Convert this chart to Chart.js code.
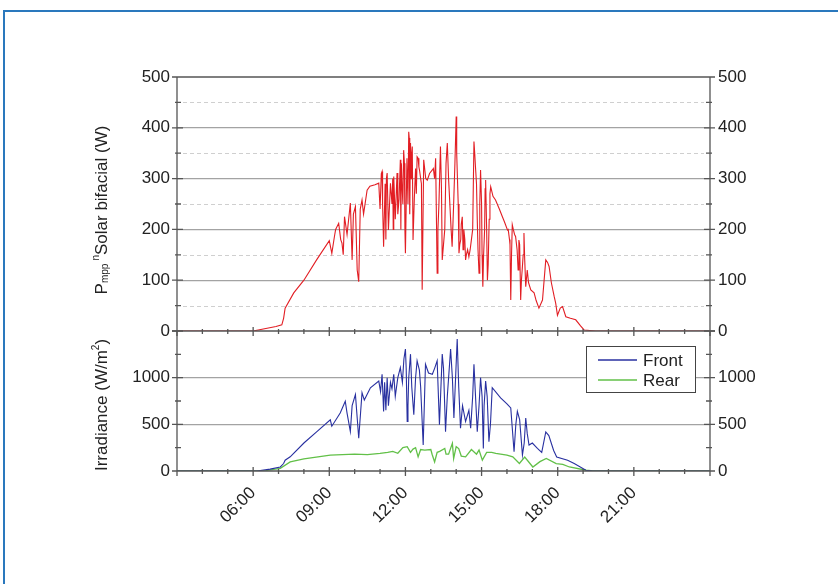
<!DOCTYPE html>
<html>
<head>
<meta charset="utf-8">
<script src="https://cdn.jsdelivr.net/npm/chart.js@4.4.1/dist/chart.umd.min.js"></script>
<style>
  html, body { margin: 0; padding: 0; background: #fff; }
  #wrap { position: relative; width: 838px; height: 584px; overflow: hidden; }
  #frame { position: absolute; left: 3px; top: 10px; width: 900px; height: 700px;
           border-top: 2px solid #2a78bd; border-left: 2px solid #2a78bd; box-sizing: border-box; }
  canvas { position: absolute; left: 0; }
  #cTop { top: 0; }
  #cBot { top: 312px; }
</style>
</head>
<body>
<div id="wrap">
  <div id="frame"></div>
  <canvas id="cTop" width="838" height="350"></canvas>
  <canvas id="cBot" width="838" height="272"></canvas>
</div>
<script>
// === DADOS ===
const hourTicks = [6, 9, 12, 15, 18, 21];
const powerTicks = [0, 100, 200, 300, 400, 500];
const irrTicks = [0, 500, 1000];

// Pmpp solar bifacial (W)
const powerHours = [
  3, 6, 6.1, 6.5, 6.9, 7.13, 7.2, 7.26, 7.6, 8.0, 8.5,
  9.0, 9.1, 9.2, 9.25, 9.37, 9.45, 9.5, 9.55, 9.6, 9.7, 9.83, 9.9, 9.95,
  10.03, 10.1, 10.16, 10.22, 10.29, 10.35, 10.49, 10.6, 10.8, 10.95,
  11.0, 11.05, 11.08, 11.1, 11.14, 11.2, 11.23, 11.25, 11.28, 11.33, 11.41, 11.47, 11.5, 11.52,
  11.54, 11.6, 11.67, 11.7, 11.75, 11.8, 11.82, 11.84, 11.87, 11.9, 11.93, 11.96, 11.98,
  12.0, 12.06, 12.1, 12.13, 12.15, 12.17, 12.2, 12.23, 12.25, 12.27, 12.3, 12.35,
  12.4, 12.43, 12.46, 12.5, 12.53, 12.56, 12.6, 12.63, 12.66, 12.72, 12.8, 12.86, 12.95,
  13.06, 13.1, 13.15, 13.19, 13.25, 13.28, 13.32, 13.38, 13.42, 13.45, 13.5, 13.55, 13.6, 13.65, 13.7, 13.75, 13.8, 13.84, 13.9, 13.95,
  14.0, 14.02, 14.05, 14.08, 14.11, 14.14, 14.18, 14.2, 14.24, 14.27, 14.3, 14.34, 14.37, 14.4,
  14.45, 14.5, 14.55, 14.6, 14.65, 14.7, 14.73, 14.76, 14.8, 14.83, 14.86, 14.9, 14.93, 14.96,
  15.0, 15.02, 15.05, 15.08, 15.12, 15.14, 15.16, 15.2, 15.23, 15.26, 15.3, 15.33, 15.36, 15.45, 15.55, 15.7, 15.82, 15.9,
  16.02, 16.05, 16.1, 16.12, 16.15, 16.18, 16.21, 16.25, 16.3, 16.34, 16.4, 16.44, 16.47, 16.5, 16.54, 16.57, 16.6, 16.64, 16.67, 16.7, 16.74, 16.8, 16.85, 16.94,
  17.07, 17.15, 17.26, 17.4, 17.53, 17.6, 17.66, 17.75, 17.86, 17.92, 17.99,
  18.1, 18.19, 18.32, 18.5, 18.71, 18.9, 19.04, 19.5, 24];
const powerValues = [
  0, 0, 1, 5, 9, 12, 25, 45, 75, 100, 140,
  178, 153, 185, 200, 212, 180, 173, 150, 225, 190, 252, 140, 230,
  245, 120, 97, 240, 258, 230, 277, 285, 288, 291,
  240, 310, 314, 250, 166, 290, 180, 300, 311, 199, 291, 250, 300, 200,
  304, 220, 311, 230, 260, 337, 200, 330, 284, 250, 356, 330, 200,
  153, 340, 250, 392, 380, 230, 370, 300, 350, 363, 179, 260,
  320, 270, 343, 340, 323, 315, 300, 290, 81, 337, 300, 297, 310,
  317, 320, 300, 340, 114, 200, 250, 363, 280, 140, 170, 200, 330, 370, 300, 250, 200, 166, 250, 330,
  422, 350, 300, 250, 153, 170, 180, 210, 225, 160, 200, 180, 140, 150,
  160, 146, 160, 180, 200, 373, 350, 323, 290, 220, 160, 114, 250, 317,
  250, 150, 87, 150, 200, 280, 297, 200, 100, 130, 220, 270, 284, 265, 258, 240, 225, 215,
  199, 200, 180, 170, 61, 150, 209, 200, 190, 186, 160, 120, 179, 170, 61, 100, 120, 150, 193, 140, 87, 120, 95, 81,
  75, 60, 45, 61, 140, 135, 127, 95, 68, 55, 31,
  45, 48, 28, 25, 22, 10, 2, 0, 0];

// Irradiância frontal (W/m2)
const frontHours = [
  3, 6, 6.15, 6.67, 7.07, 7.2, 7.26, 7.46, 8.0, 8.5,
  9.04, 9.1, 9.43, 9.63, 9.7, 9.83, 9.9,
  10.03, 10.16, 10.29, 10.38, 10.62, 10.95,
  11.02, 11.08, 11.14, 11.18, 11.23, 11.28, 11.33, 11.41, 11.47, 11.54, 11.6, 11.7, 11.8, 11.88, 11.94,
  12.0, 12.03, 12.07, 12.1, 12.13, 12.2, 12.25, 12.33, 12.4, 12.46, 12.55, 12.6, 12.7, 12.79, 12.91,
  13.06, 13.15, 13.25, 13.34, 13.45, 13.5, 13.58, 13.65, 13.78, 13.85, 13.91,
  14.04, 14.1, 14.17, 14.25, 14.37, 14.5, 14.57, 14.65, 14.7, 14.83, 14.9, 14.96,
  15.02, 15.07, 15.1, 15.16, 15.22, 15.29, 15.35, 15.42, 15.75,
  16.0, 16.15, 16.28, 16.35, 16.41, 16.5, 16.61, 16.68, 16.74, 16.8, 16.87, 17.0,
  17.2, 17.37, 17.53, 17.65, 17.84, 17.96,
  18.39, 18.65, 19.11, 19.37, 24];
const frontValues = [
  0, 0, 0, 20, 43, 80, 116, 152, 300, 420,
  549, 480, 621, 747, 620, 422, 700,
  819, 351, 838, 760, 892, 963,
  850, 1036, 639, 950, 650, 1000, 700, 950, 880, 1036, 800, 1000, 1108, 950, 1200,
  1306, 1100, 530, 700, 1000, 1252, 900, 603, 1000, 1180, 1080, 900, 278, 1144, 1050,
  1036, 1100, 1180, 495, 1252, 1100, 422, 800, 1306, 1000, 567,
  1414, 900, 459, 700, 530, 650, 459, 800, 1144, 422, 700, 1000,
  800, 242, 700, 963, 800, 314, 500, 892, 784,
  720, 675, 206, 500, 639, 550, 170, 300, 567, 400, 278, 300,
  242, 200, 418, 380, 220, 150,
  116, 80, 8, 0, 0];

// Irradiância traseira (W/m2)
const rearHours = [
  3, 6, 6.5, 7.07, 7.46, 8.0, 9.04, 10.0, 10.5,
  11.0, 11.3, 11.5, 11.7, 11.9, 12.07, 12.2, 12.3, 12.4, 12.5, 12.6, 12.76,
  13.0, 13.05, 13.15, 13.25, 13.35, 13.55, 13.6, 13.7, 13.85, 13.9,
  14.0, 14.1, 14.2, 14.37, 14.6, 14.8, 14.9, 15.03, 15.2, 15.4, 15.56,
  16.0, 16.23, 16.49, 16.7, 17.02, 17.3, 17.55, 17.94,
  18.2, 18.46, 19.12, 19.4, 24];
const rearValues = [
  0, 0, 5, 29, 97, 130, 170, 180, 175,
  188, 200, 210, 190, 250, 260, 200, 235, 250, 152, 230, 224,
  230, 180, 97, 200, 210, 242, 180, 180, 296, 134,
  260, 240, 160, 152, 230, 180, 224, 116, 200, 200, 188,
  170, 152, 80, 150, 43, 100, 134, 80,
  70, 43, 8, 0, 0];

// === ESTILO ===
const FONT = "'Liberation Sans', Arial, sans-serif";
const INK = '#222';
const AXIS = '#555';
const GRID = '#a3a3a3';

function pts(h, v) { return h.map((x, i) => ({ x: x, y: v[i] })); }
function fmtHour(v) { return (v < 10 ? '0' : '') + v + ':00'; }

// marcas de eixo cruzando a moldura + grade tracejada secundária
const marcas = {
  id: 'marcas',
  beforeDatasetsDraw(chart, args, o) {
    if (!o.dashStep) return;
    const { ctx, chartArea: a } = chart;
    const y = chart.scales.y;
    ctx.save();
    ctx.strokeStyle = '#cfcfcf'; ctx.lineWidth = 1; ctx.setLineDash([4, 3]);
    ctx.beginPath();
    for (let v = o.dashStep; v < y.max; v += o.majorStep) {
      const py = Math.round(y.getPixelForValue(v)) + 0.5;
      ctx.moveTo(a.left + 6, py); ctx.lineTo(a.right - 6, py);
    }
    ctx.stroke();
    ctx.restore();
  },
  afterDatasetsDraw(chart, args, o) {
    const { ctx, chartArea: a } = chart;
    const y = chart.scales.y, x = chart.scales.x;
    ctx.save();
    ctx.strokeStyle = AXIS; ctx.lineWidth = 1.3;
    ctx.beginPath();
    ctx.moveTo(a.left, a.top); ctx.lineTo(a.left, a.bottom);
    ctx.lineTo(a.right, a.bottom); ctx.lineTo(a.right, a.top);
    if (o.topEdge) { ctx.moveTo(a.left, a.top); ctx.lineTo(a.right, a.top); }
    for (let v = 0; v <= y.max + 1e-6; v += o.minorStep) {
      const py = y.getPixelForValue(v);
      const major = v % o.majorStep === 0;
      const out = major ? 5 : 2, inn = major ? 6 : 4;
      ctx.moveTo(a.left - out, py); ctx.lineTo(a.left + inn, py);
      ctx.moveTo(a.right - inn, py); ctx.lineTo(a.right + out, py);
    }
    for (let h = x.min; h <= x.max; h++) {
      const px = x.getPixelForValue(h);
      const major = h % 3 === 0;
      ctx.moveTo(px, a.bottom - (major ? 4 : 2)); ctx.lineTo(px, a.bottom + (major ? 5 : 3));
    }
    ctx.stroke();
    ctx.restore();
  }
};

// título vertical com sub/sobrescrito
const tituloY = {
  id: 'tituloY',
  afterDraw(chart, args, o) {
    const { ctx } = chart;
    ctx.save();
    ctx.fillStyle = INK; ctx.textBaseline = 'alphabetic';
    let total = 0;
    o.parts.forEach(p => {
      ctx.font = p.size + 'px ' + FONT;
      p.w = ctx.measureText(p.t).width + (p.gap || 0);
      total += p.w;
    });
    ctx.translate(o.x, o.y);
    ctx.rotate(-Math.PI / 2);
    let cx = -total / 2;
    o.parts.forEach(p => {
      ctx.font = p.size + 'px ' + FONT;
      ctx.fillText(p.t, cx, p.dy || 0);
      cx += p.w;
    });
    ctx.restore();
  }
};

// legenda em caixa dentro da área do gráfico
const caixaLegenda = {
  id: 'caixaLegenda',
  afterDraw(chart, args, o) {
    if (!o.w) return;
    const { ctx } = chart;
    ctx.save();
    ctx.fillStyle = '#fff'; ctx.fillRect(o.x, o.y, o.w, o.h);
    ctx.strokeStyle = '#444'; ctx.lineWidth = 1;
    ctx.strokeRect(o.x + 0.5, o.y + 0.5, o.w, o.h);
    ctx.font = '17px ' + FONT; ctx.textBaseline = 'middle';
    chart.data.datasets.forEach((ds, i) => {
      const ly = o.y + o.first + i * o.gap;
      ctx.strokeStyle = ds.borderColor; ctx.lineWidth = 1.5;
      ctx.beginPath(); ctx.moveTo(o.x + 12, ly); ctx.lineTo(o.x + 51, ly); ctx.stroke();
      ctx.fillStyle = INK;
      ctx.fillText(ds.label, o.x + 57, ly + 1);
    });
    ctx.restore();
  }
};

function eixoY(min, max, ticks, side, width, gridOn) {
  return {
    type: 'linear', position: side, min: min, max: max,
    afterBuildTicks: s => { s.ticks = ticks.map(v => ({ value: v })); },
    afterFit: s => { s.width = width; },
    ticks: { padding: side === 'left' ? 7 : 8, color: INK, font: { family: FONT, size: 17 },
             callback: v => String(v) },
    grid: gridOn ? {
      drawTicks: false, lineWidth: 1.2,
      color: c => (c.tick && c.tick.value > min && c.tick.value < max) ? GRID : 'rgba(0,0,0,0)'
    } : { display: false, drawTicks: false },
    border: { display: false }
  };
}

const base = {
  responsive: false, animation: false, events: [],
  elements: { point: { radius: 0 }, line: { tension: 0 } }
};

// === PAINEL SUPERIOR: POTÊNCIA ===
new Chart(document.getElementById('cTop'), {
  type: 'line',
  data: {
    datasets: [{
      label: 'Pmpp', data: pts(powerHours, powerValues),
      borderColor: 'rgb(226,30,36)', borderWidth: 1.1
    }]
  },
  options: Object.assign({}, base, {
    layout: { padding: { top: 77, bottom: 19, left: 0, right: 0 } },
    scales: {
      x: { type: 'linear', min: 3, max: 24, display: false },
      y: eixoY(0, 500, powerTicks, 'left', 177, true),
      y2: eixoY(0, 500, powerTicks, 'right', 128, false)
    },
    plugins: {
      legend: { display: false }, tooltip: { enabled: false },
      marcas: { minorStep: 50, majorStep: 100, dashStep: 50, topEdge: true },
      tituloY: { x: 107, y: 210, parts: [
        { t: 'P', size: 17 },
        { t: 'mpp', size: 10, dy: 1, gap: 3 },
        { t: 'n', size: 10, dy: -8 },
        { t: 'Solar bifacial (W)', size: 17 }
      ] }
    }
  }),
  plugins: [marcas, tituloY]
});

// === PAINEL INFERIOR: IRRADIÂNCIA ===
new Chart(document.getElementById('cBot'), {
  type: 'line',
  data: {
    datasets: [
      { label: 'Front', data: pts(frontHours, frontValues), borderColor: 'rgb(40,48,160)', borderWidth: 1.1 },
      { label: 'Rear', data: pts(rearHours, rearValues), borderColor: 'rgb(98,192,72)', borderWidth: 1.3 }
    ]
  },
  options: Object.assign({}, base, {
    layout: { padding: { top: 19, bottom: 0, left: 0, right: 0 } },
    scales: {
      x: {
        type: 'linear', min: 3, max: 24,
        afterBuildTicks: s => { s.ticks = hourTicks.map(v => ({ value: v })); },
        afterFit: s => { s.height = 113; },
        ticks: { autoSkip: false, minRotation: 45, maxRotation: 45, padding: 12,
                 color: INK, font: { family: FONT, size: 17 }, callback: v => fmtHour(v) },
        grid: { display: false, drawTicks: false },
        border: { display: false }
      },
      y: eixoY(0, 1500, irrTicks, 'left', 177, true),
      y2: eixoY(0, 1500, irrTicks, 'right', 128, false)
    },
    plugins: {
      legend: { display: false }, tooltip: { enabled: false },
      marcas: { minorStep: 250, majorStep: 500, dashStep: 0, topEdge: false },
      tituloY: { x: 107, y: 93, parts: [
        { t: 'Irradiance (W/m', size: 17 },
        { t: '2', size: 10, dy: -8 },
        { t: ')', size: 17 }
      ] },
      caixaLegenda: { x: 586, y: 34, w: 109, h: 46, first: 14, gap: 20 }
    }
  }),
  plugins: [marcas, tituloY, caixaLegenda]
});
</script>
</body>
</html>
